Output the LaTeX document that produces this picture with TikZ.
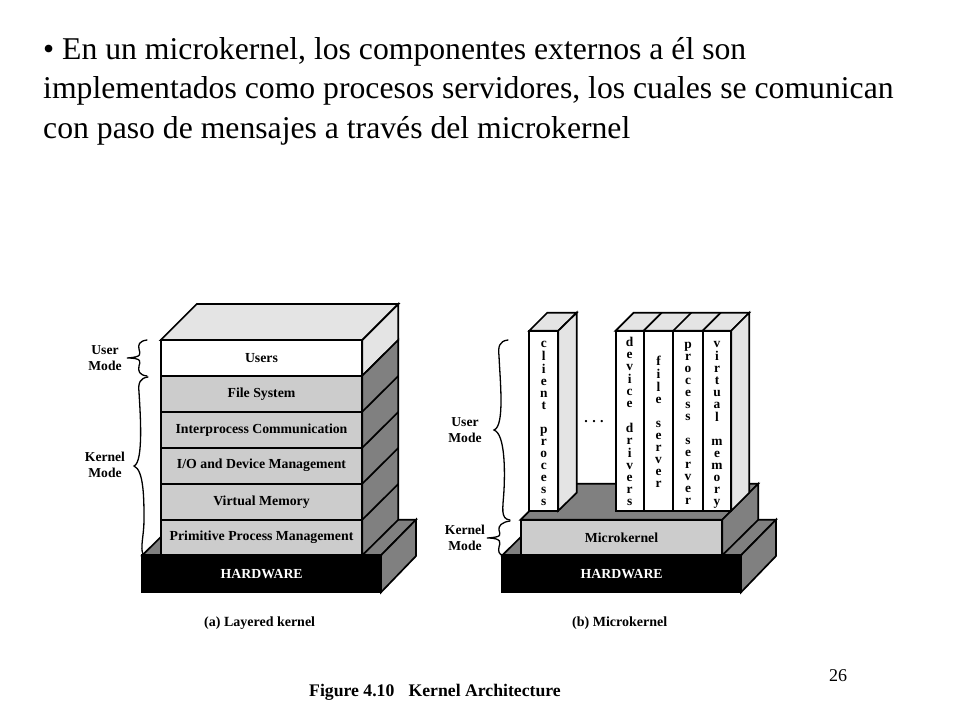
\documentclass[tikz,border=0pt]{standalone}
\usepackage{fontspec}
\setmainfont{Liberation Serif}
\definecolor{topgray}{HTML}{E4E4E4}
\definecolor{midgray}{HTML}{CCCCCC}
\definecolor{darkgray}{HTML}{808080}
\newcommand{\vlet}[1]{\begin{tabular}{@{}c@{}}\rule{0pt}{14.4pt}#1\end{tabular}}
\tikzset{
  x=1pt,y=-1pt,
  edge/.style={draw=black,line width=1.7pt,line join=miter},
  layer/.style={edge,rectangle,anchor=north west,outer sep=0pt,minimum width=201.6pt,minimum height=36pt,inner sep=0pt,font=\fontsize{13.8}{15}\selectfont\bfseries},
  col/.style={edge,rectangle,anchor=north west,outer sep=0pt,fill=white,minimum height=180pt,inner sep=0pt,font=\fontsize{13.4}{12}\selectfont\bfseries,align=center},
  hw/.style={edge,rectangle,anchor=north west,outer sep=0pt,fill=black,text=white,minimum width=238.7pt,minimum height=37pt,inner sep=0pt,font=\fontsize{13.8}{15}\selectfont\bfseries},
  lab/.style={inner sep=0pt,align=center,font=\fontsize{13.6}{16.4}\selectfont\bfseries},
  capt/.style={inner sep=0pt,anchor=base west,font=\fontsize{14}{16}\selectfont\bfseries},
  bline/.style={inner sep=0pt,anchor=base west,font=\fontsize{31.7}{38}\selectfont},
  brace/.style={draw=black,line width=1.3pt,line cap=round}
}
\begin{document}
\begin{tikzpicture}
\useasboundingbox[fill=white] (0,0) rectangle (960,720);
% heading
\node[bline] (l1) at (43,59) {• En un microkernel, los componentes externos a él son};
\node[bline] (l2) at (43,98) {implementados como procesos servidores, los cuales se comunican};
\node[bline] (l3) at (43,138) {con paso de mensajes a través del microkernel};
% LEFT hardware
\filldraw[edge,fill=darkgray] (142.3,555.3) -- (178.3,519.7) -- (416,519.7) -- (381,555.3) -- cycle;
\filldraw[edge,fill=darkgray] (381,555.3) -- (416,519.7) -- (416,556) -- (381,592.3) -- cycle;
% LEFT stack top and sides
\filldraw[edge,fill=topgray] (160.7,340) -- (196.7,304) -- (398.3,304) -- (362.3,340) -- cycle;
\filldraw[edge,fill=topgray] (362.3,340) -- (398.3,304) -- (398.3,340) -- (362.3,375.7) -- cycle;
\filldraw[edge,fill=darkgray] (362.3,375.7) -- (398.3,340) -- (398.3,519.7) -- (362.3,555.3) -- cycle;
\draw[edge] (362.3,411.7) -- (398.3,376);
\draw[edge] (362.3,447.7) -- (398.3,412);
\draw[edge] (362.3,483.7) -- (398.3,448);
\draw[edge] (362.3,519.7) -- (398.3,484);
% LEFT layers
\node[layer,fill=white] (users) at (160.7,340) {Users};
\node[layer,fill=midgray] (fs) at (160.7,375.7) {File System};
\node[layer,fill=midgray] (ipc) at (160.7,411.7) {Interprocess Communication};
\node[layer,fill=midgray] (io) at (160.7,447.7) {I/O and Device Management};
\node[layer,fill=midgray] (vm) at (160.7,483.7) {Virtual Memory};
\node[layer,fill=midgray] (ppm) at (160.7,519.7) {Primitive Process Management};
\node[hw] (hwa) at (142.3,555.3) {HARDWARE};
% LEFT labels and braces
\node[lab] (um1) at (105,358) {User\\Mode};
\node[lab] (km1) at (105,465) {Kernel\\Mode};
\draw[brace] (147,340) .. controls (139,341) and (138,345) .. (139,349) .. controls (140,354) and (143,357) .. (127,358) .. controls (143,358) and (140,362) .. (139,366) .. controls (138,371) and (139,375) .. (147,376);
\draw[brace] (148,377) .. controls (140,378) and (138,383) .. (139,392) .. controls (140,410) and (144,462) .. (134,466) .. controls (144,470) and (144,500) .. (144,520) .. controls (144,535) and (140,548) .. (143,554);
% RIGHT hardware
\filldraw[edge,fill=darkgray] (502.3,555.3) -- (538.3,519.7) -- (776,519.7) -- (741,555.3) -- cycle;
\filldraw[edge,fill=darkgray] (741,555.3) -- (776,519.7) -- (776,556) -- (741,592.3) -- cycle;
% RIGHT microkernel
\filldraw[edge,fill=darkgray] (520.7,519.7) -- (556.7,483.7) -- (758.3,483.7) -- (722.3,519.7) -- cycle;
\filldraw[edge,fill=darkgray] (722.3,519.7) -- (758.3,483.7) -- (758.3,519.7) -- (722.3,555.3) -- cycle;
\node[layer,fill=midgray] (mk) at (520.7,519.7) {Microkernel};
\node[hw] (hwb) at (502.3,555.3) {HARDWARE};
% RIGHT client column
\filldraw[edge,fill=topgray] (529.3,330.7) -- (547.3,312.7) -- (576.7,312.7) -- (558.3,330.7) -- cycle;
\filldraw[edge,fill=topgray] (558.3,330.7) -- (576.7,312.7) -- (576.7,492.7) -- (558.3,510.7) -- cycle;
\node[col,minimum width=29pt] (cp) at (529.3,330.7) {\vlet{c\\l\\i\\e\\n\\t\\ \\p\\r\\o\\c\\e\\s\\s}};
\node[lab,font=\fontsize{14}{14}\selectfont\bfseries] (dots) at (594,421.5) {.\hspace{4.5pt}.\hspace{4.5pt}.};
% RIGHT server columns
\filldraw[edge,fill=topgray] (615.7,330.7) -- (633.7,312.7) -- (749.3,312.7) -- (731.3,330.7) -- cycle;
\draw[edge] (643.7,330.7) -- (661.7,312.7);
\draw[edge] (673.3,330.7) -- (691.3,312.7);
\draw[edge] (702.7,330.7) -- (720.7,312.7);
\filldraw[edge,fill=topgray] (731.3,330.7) -- (749.3,312.7) -- (749.3,492.7) -- (731.3,510.7) -- cycle;
\node[col,minimum width=28pt] (dd) at (615.7,330.7) {\vlet{d\\e\\v\\i\\c\\e\\ \\d\\r\\i\\v\\e\\r\\s}};
\node[col,minimum width=29.6pt] (fsv) at (643.7,330.7) {\vlet{f\\i\\l\\e\\ \\s\\e\\r\\v\\e\\r}};
\node[col,minimum width=29.4pt] (ps) at (673.3,330.7) {\vlet{p\\r\\o\\c\\e\\s\\s\\ \\s\\e\\r\\v\\e\\r}};
\node[col,minimum width=28.6pt] (vmem) at (702.7,330.7) {\vlet{v\\i\\r\\t\\u\\a\\l\\ \\m\\e\\m\\o\\r\\y}};
% RIGHT labels and braces
\node[lab] (um2) at (465,430) {User\\Mode};
\node[lab] (km2) at (465,538) {Kernel\\Mode};
\draw[brace] (508,340) .. controls (499,341) and (498,347) .. (499,356) .. controls (500,380) and (505,426) .. (494,430) .. controls (505,434) and (505,470) .. (504,490) .. controls (503,508) and (500,519) .. (510,520);
\draw[brace] (510,521) .. controls (502,522) and (498,526) .. (499,530) .. controls (500,535) and (503,537) .. (487,538) .. controls (503,538) and (500,543) .. (499,547) .. controls (498,551) and (499,555) .. (503,555);
% captions
\node[capt] (ca) at (204,626) {(a) Layered kernel};
\node[capt] (cb) at (572,626) {(b) Microkernel};
\node[capt,font=\fontsize{17.7}{20}\selectfont\bfseries] (fig) at (309,696) {Figure 4.10\hspace{0.8em}Kernel Architecture};
\node[inner sep=0pt,anchor=base west,font=\fontsize{18}{20}\selectfont] (pg) at (829,681) {26};
\end{tikzpicture}
\end{document}
